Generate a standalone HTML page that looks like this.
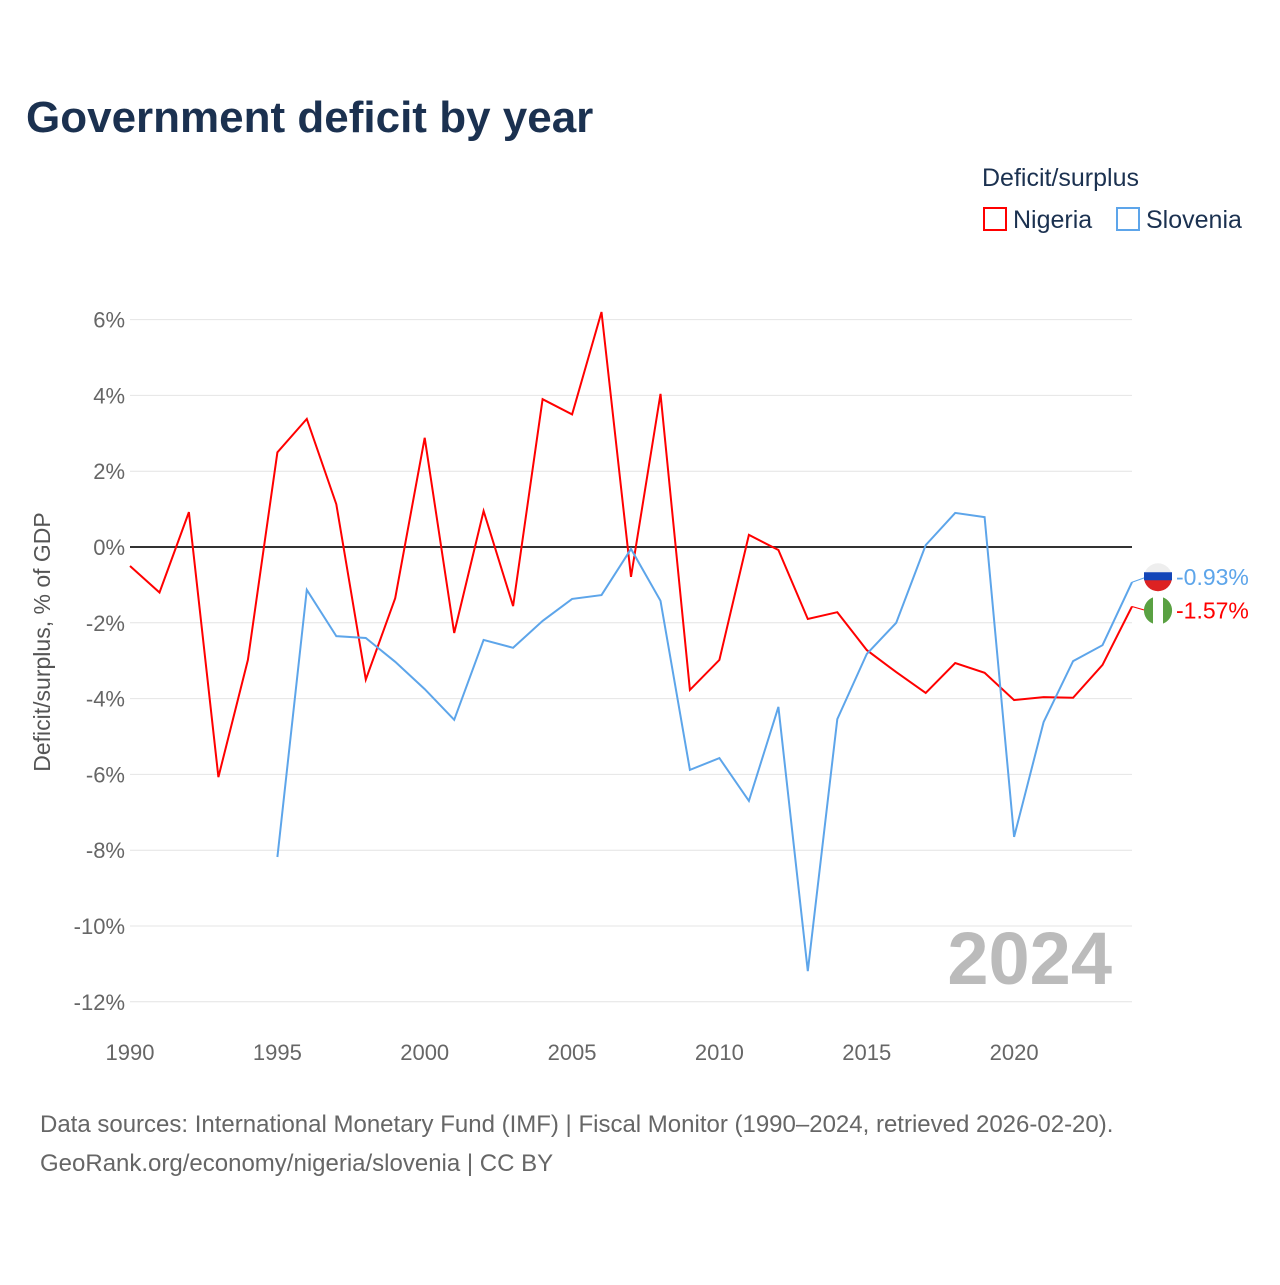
<!DOCTYPE html>
<html><head><meta charset="utf-8">
<style>
body{margin:0;background:#fff;font-family:"Liberation Sans",sans-serif;}
</style></head>
<body>
<svg id="chart" width="1280" height="1280" xmlns="http://www.w3.org/2000/svg">
<text x="26" y="132" font-size="44" font-weight="bold" fill="#1b3150">Government deficit by year</text>
<text x="982" y="186" font-size="25" fill="#1b3150">Deficit/surplus</text>
<g>
<rect x="984" y="208" width="22" height="22" fill="none" stroke="#f00" stroke-width="2"/>
<text x="1013" y="228" font-size="25" fill="#1b3150">Nigeria</text></g>
<g>
<rect x="1117" y="208" width="22" height="22" fill="none" stroke="#5da5ea" stroke-width="2"/>
<text x="1146" y="228" font-size="25" fill="#1b3150">Slovenia</text></g>
<g id="grid"></g>
<g id="xticks"></g>
<text transform="translate(50,642) rotate(-90)" text-anchor="middle" font-size="23" fill="#555">Deficit/surplus, % of GDP</text>
<text x="1112" y="984" text-anchor="end" font-size="74" font-weight="bold" fill="#bbb">2024</text>
<g id="series"></g>
<text x="40" y="1132" font-size="24" fill="#666">Data sources: International Monetary Fund (IMF) | Fiscal Monitor (1990–2024, retrieved 2026-02-20).</text>
<text x="40" y="1171" font-size="24" fill="#666">GeoRank.org/economy/nigeria/slovenia | CC BY</text>
</svg>
<script>
const years = [1990,1991,1992,1993,1994,1995,1996,1997,1998,1999,2000,2001,2002,2003,2004,2005,2006,2007,2008,2009,2010,2011,2012,2013,2014,2015,2016,2017,2018,2019,2020,2021,2022,2023,2024];
const nigeria = [-0.5,-1.2,0.92,-6.07,-2.98,2.5,3.38,1.13,-3.5,-1.35,2.88,-2.27,0.95,-1.56,3.9,3.5,6.2,-0.79,4.04,-3.77,-2.98,0.32,-0.08,-1.9,-1.72,-2.72,-3.3,-3.85,-3.06,-3.32,-4.04,-3.96,-3.98,-3.11,-1.57];
const slovenia = [null,null,null,null,null,-8.18,-1.13,-2.35,-2.4,-3.03,-3.75,-4.56,-2.45,-2.66,-1.95,-1.37,-1.27,-0.05,-1.42,-5.88,-5.57,-6.7,-4.22,-11.19,-4.54,-2.82,-2.0,0.05,0.9,0.79,-7.65,-4.62,-3.01,-2.59,-0.93];
const yTicks = [6,4,2,0,-2,-4,-6,-8,-10,-12];
const xTicks = [1990,1995,2000,2005,2010,2015,2020];
const NS="http://www.w3.org/2000/svg";
const X0=130,X1=1132,Y0=547,PY=37.9;
const xs=y=>X0+(y-1990)*(X1-X0)/34;
const ys=v=>Y0-v*PY;
function mk(t,a,p){const e=document.createElementNS(NS,t);for(const k in a)e.setAttribute(k,a[k]);p.appendChild(e);return e;}
const grid=document.getElementById('grid');
yTicks.forEach(v=>{
 const l=mk('line',{x1:X0,x2:X1,y1:ys(v),y2:ys(v),stroke:v===0?'#333':'#e4e4e4','stroke-width':v===0?2:1},grid);
 
 
 const t=mk('text',{x:125,y:ys(v)+8,'text-anchor':'end','font-size':22,fill:'#666'},grid);
 t.textContent=v+'%';
 
 
});
const xt=document.getElementById('xticks');
xTicks.forEach(y=>{
 const t=mk('text',{x:xs(y),y:1060,'text-anchor':'middle','font-size':22,fill:'#666'},xt);
 t.textContent=y;
 
 
});
const sg=document.getElementById('series');
function line(vals,col,name){
 let d='';vals.forEach((v,i)=>{if(v===null)return;d+=(d?'L':'M')+xs(years[i]).toFixed(1)+','+ys(v).toFixed(1);});
 const p=mk('path',{d:d,fill:'none',stroke:col,'stroke-width':2},sg);
 
 
}
line(nigeria,'#f00','nigeria-line');
line(slovenia,'#5da5ea','slovenia-line');
function endLabel(v,col,name,flag){
 const y=ys(v),cy=flag==='si'?y-5:y+4;
 const g=mk('g',{},sg);
 
 
 mk('line',{x1:X1,x2:1146,y1:y,y2:cy,stroke:col},g);
 if(flag==='si'){
  mk('circle',{cx:1158,cy:cy,r:14,fill:'#eee'},g);
  mk('path',{d:`M1144,${cy} A14,14 0 0 0 1172,${cy}Z`,fill:'#d22'},g);
  mk('rect',{x:1144,y:cy-5,width:28,height:8,fill:'#1446b8'},g);
 }else{
  mk('circle',{cx:1158,cy:cy,r:14,fill:'#fff'},g);
  mk('path',{d:`M1153,${cy-13.1} A14,14 0 0 0 1153,${cy+13.1}Z M1163,${cy-13.1} A14,14 0 0 1 1163,${cy+13.1}Z`,fill:'#5aa142'},g);
 }
 const t=mk('text',{x:1176,y:cy+8,'font-size':23,fill:col},g);
 t.textContent=v.toFixed(2)+'%';
}
endLabel(slovenia[slovenia.length-1],'#5da5ea','slovenia-end-label','si');
endLabel(nigeria[nigeria.length-1],'#f00','nigeria-end-label','ng');
</script>
</body></html>
